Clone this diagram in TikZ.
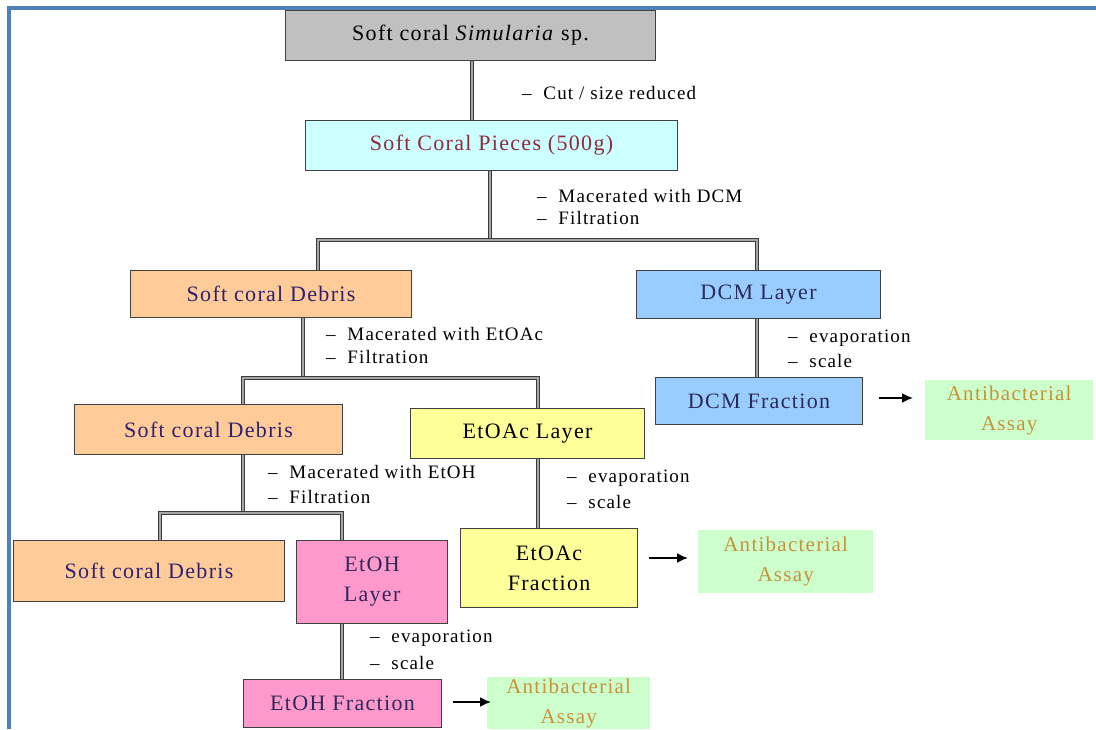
\documentclass[tikz,border=0pt]{standalone}
\usepackage{fontspec}
\setmainfont{Liberation Serif}[LetterSpace=6]
\usetikzlibrary{arrows.meta}
\definecolor{framebl}{HTML}{4F81BD}
\definecolor{boxgray}{HTML}{C0C0C0}
\definecolor{boxcyan}{HTML}{CCFFFF}
\definecolor{boxpeach}{HTML}{FFCC99}
\definecolor{boxblue}{HTML}{99CCFF}
\definecolor{boxyellow}{HTML}{FFFF99}
\definecolor{boxpink}{HTML}{FF99CC}
\definecolor{boxgreen}{HTML}{CCFFCC}
\definecolor{txtred}{HTML}{8E2C3C}
\definecolor{txtnavy}{HTML}{2E1F70}
\definecolor{txtdcm}{HTML}{2C2A5A}
\definecolor{txtgold}{HTML}{C8923A}
\definecolor{linegray}{HTML}{3A3A3A}
\tikzset{
  x=1pt, y=-1pt,
  stepbox/.style={draw=black!75, line width=1.1pt, inner sep=0pt, anchor=north west,
    align=center, font=\fontsize{22}{30}\selectfont},
  assaybox/.style={fill=boxgreen, draw=none, inner sep=0pt, anchor=north west,
    align=center, text=txtgold, font=\fontsize{21}{30}\selectfont},
  lbl/.style={anchor=west, inner sep=0pt, font=\fontsize{19}{23}\selectfont, align=left},
  conn/.style={draw=linegray, line width=1.1pt, double=black!35, double distance=1.8pt},
  arr/.style={-{Latex[length=11pt,width=10pt]}, line width=1.8pt, black},
}
\begin{document}
\begin{tikzpicture}
\useasboundingbox (0,0) rectangle (1096,729);
% frame
\draw[framebl, line width=4pt] (9,729) -- (9,8) -- (1096,8);

% boxes
\node[stepbox, fill=boxgray, minimum width=370pt, minimum height=50pt] (coral) at (285,10) {Soft coral \textit{Simularia} sp.};
\node[stepbox, fill=boxcyan, text=txtred, minimum width=372pt, minimum height=50pt] (pieces) at (305,120) {Soft Coral Pieces (500g)};
\node[stepbox, fill=boxpeach, text=txtnavy, minimum width=281pt, minimum height=47pt] (deb1) at (130,270) {Soft coral Debris};
\node[stepbox, fill=boxblue, text=txtdcm, minimum width=244pt, minimum height=48pt] (dcml) at (636,270) {DCM Layer};
\node[stepbox, fill=boxpeach, text=txtnavy, minimum width=268pt, minimum height=50pt] (deb2) at (74,404) {Soft coral Debris};
\node[stepbox, fill=boxyellow, text=black, minimum width=234pt, minimum height=50pt] (etoacl) at (410,408) {EtOAc Layer};
\node[stepbox, fill=boxblue, text=txtdcm, minimum width=207pt, minimum height=47pt] (dcmf) at (655,377) {DCM Fraction};
\node[assaybox, minimum width=168pt, minimum height=60pt] (as1) at (925,380) {Antibacterial\\Assay};
\node[stepbox, fill=boxpeach, text=txtnavy, minimum width=271pt, minimum height=61pt] (deb3) at (13,540) {Soft coral Debris};
\node[stepbox, fill=boxpink, text=txtdcm, minimum width=151pt, minimum height=83pt] (etohl) at (296,540) {EtOH\\Layer};
\node[stepbox, fill=boxyellow, text=black, minimum width=177pt, minimum height=79pt] (etoacf) at (460,528) {EtOAc\\Fraction};
\node[assaybox, minimum width=175pt, minimum height=63pt] (as2) at (698,530) {Antibacterial\\Assay};
\node[stepbox, fill=boxpink, text=txtdcm, minimum width=198pt, minimum height=48pt] (etohf) at (243,679) {EtOH Fraction};
\node[assaybox, minimum width=163pt, minimum height=52pt] (as3) at (487,677) {Antibacterial\\Assay};

% connector points
\coordinate (c1) at (472,0);
\coordinate (c2) at (490,240);
\coordinate (b1l) at (318,240);
\coordinate (b1r) at (757,240);
\coordinate (c3) at (303,378);
\coordinate (b2l) at (243,378);
\coordinate (b2r) at (538,378);
\coordinate (c4) at (243,513);
\coordinate (b3l) at (160,513);
\coordinate (b3r) at (342,513);
\coordinate (a1) at (0,398);
\coordinate (a2) at (0,558);
\coordinate (a3) at (0,702);

% connectors
\draw[conn] (coral.south -| c1) -- (pieces.north -| c1);
\draw[conn] (pieces.south -| c2) -- (c2);
\draw[conn] (deb1.north -| b1l) -- (b1l) -- (b1r) -- (dcml.north -| b1r);
\draw[conn] (dcml.south -| b1r) -- (dcmf.north -| b1r);
\draw[conn] (deb1.south -| c3) -- (c3);
\draw[conn] (deb2.north -| b2l) -- (b2l) -- (b2r) -- (etoacl.north -| b2r);
\draw[conn] (etoacl.south -| b2r) -- (etoacf.north -| b2r);
\draw[conn] (deb2.south -| c4) -- (c4);
\draw[conn] (deb3.north -| b3l) -- (b3l) -- (b3r) -- (etohl.north -| b3r);
\draw[conn] (etohl.south -| b3r) -- (etohf.north -| b3r);

% arrows
\draw[arr] ([xshift=16pt]a1 -| dcmf.east) -- ([xshift=-12pt]a1 -| as1.west);
\draw[arr] ([xshift=11pt]a2 -| etoacf.east) -- ([xshift=-10pt]a2 -| as2.west);
\draw[arr] ([xshift=11pt]a3 -| etohf.east) -- ([xshift=4pt]a3 -| as3.west);

% labels
\node[lbl] (l1) at (522,93) {–\ \ Cut / size reduced};
\node[lbl] (l2) at (537,196) {–\ \ Macerated with DCM};
\node[lbl] (l3) at (537,218) {–\ \ Filtration};
\node[lbl] (l4) at (326,334) {–\ \ Macerated with EtOAc};
\node[lbl] (l5) at (326,357) {–\ \ Filtration};
\node[lbl] (l6) at (788,338) {–\ \ evaporation};
\node[lbl] (l7) at (788,361) {–\ \ scale};
\node[lbl] (l8) at (268,472) {–\ \ Macerated with EtOH};
\node[lbl] (l9) at (268,497) {–\ \ Filtration};
\node[lbl] (l10) at (567,478) {–\ \ evaporation};
\node[lbl] (l11) at (567,502) {–\ \ scale};
\node[lbl] (l12) at (370,638) {–\ \ evaporation};
\node[lbl] (l13) at (370,663) {–\ \ scale};
\end{tikzpicture}
\end{document}
